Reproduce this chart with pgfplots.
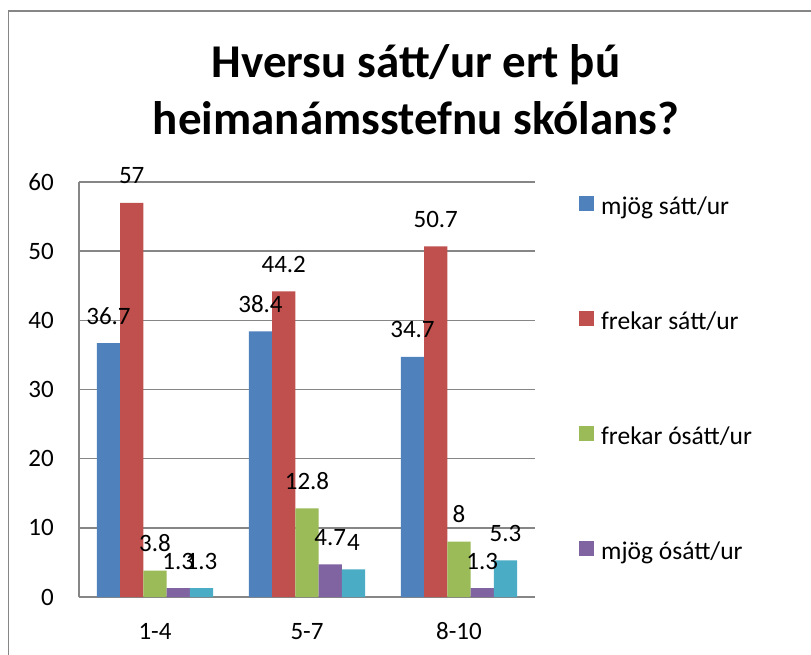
\documentclass[border=0pt]{standalone}
\usepackage{pgfplots}
\pgfplotsset{compat=1.18}
\usepackage{fontspec}
\setmainfont{Carlito}

\definecolor{sblue}{HTML}{4F81BD}
\definecolor{sred}{HTML}{C0504D}
\definecolor{sgreen}{HTML}{9BBB59}
\definecolor{spurple}{HTML}{8064A2}
\definecolor{scyan}{HTML}{4BACC6}
\definecolor{axgray}{HTML}{868686}

\begin{document}
\begin{tikzpicture}[x=1pt,y=1pt]
\useasboundingbox (0,0) rectangle (811,-655);
\fill[white] (0,0) rectangle (811,-655);
\draw[line width=1.5pt,axgray] (8.5,-655) -- (8.5,-11) -- (811,-11);
\node[font=\fontsize{47}{57}\selectfont\bfseries,align=center] at (416,-90)
  {Hversu sátt/ur ert þú\\heimanámsstefnu skólans?};

\begin{axis}[
  at={(79pt,-597pt)}, anchor=south west,
  scale only axis, width=456pt, height=415pt,
  xmin=-0.5, xmax=2.5, ymin=0, ymax=60,
  ybar=0pt, bar width=0.153,
  /pgf/number format/assume math mode=true,
  xtick={0,1,2}, xticklabels={1-4,5-7,8-10},
  ytick={0,10,...,60},
  axis lines*=left,
  axis line style={axgray,line width=1.5pt},
  ymajorgrids, grid style={axgray,line width=1.5pt},
  major tick length=0pt,
  tick label style={font=\fontsize{25}{30}\selectfont},
  xticklabel style={anchor=base,inner sep=0pt,yshift=-42pt},
  yticklabel style={anchor=east,inner sep=0pt,xshift=-25pt},
  nodes near coords,
  every node near coord/.append style={anchor=base,inner sep=0pt,yshift=19pt,
    font=\fontsize{25}{30}\selectfont,black},
  legend entries={mjög sátt/ur,frekar sátt/ur,frekar ósátt/ur,mjög ósátt/ur},
  legend style={at={(1.0965,0.967)},anchor=north west,draw=none,fill=none,
    inner sep=0pt,row sep=90pt,font=\fontsize{25.5}{30}\selectfont,
    nodes={inner sep=0pt,text height=17pt,text depth=6pt}},
  legend cell align=left,
  legend image code/.code={\fill[#1,draw=none] (0pt,-1.5pt) rectangle (15pt,13.5pt);
    \path (22pt,0pt);},
]
\addplot[fill=sblue,draw=none] coordinates {(0,36.7) (1,38.4) (2,34.7)};
\addplot[fill=sred,draw=none] coordinates {(0,57) (1,44.2) (2,50.7)};
\addplot[fill=sgreen,draw=none] coordinates {(0,3.8) (1,12.8) (2,8)};
\addplot[fill=spurple,draw=none] coordinates {(0,1.3) (1,4.7) (2,1.3)};
\addplot[fill=scyan,draw=none] coordinates {(0,1.3) (1,4) (2,5.3)};
\end{axis}
\end{tikzpicture}
\end{document}
